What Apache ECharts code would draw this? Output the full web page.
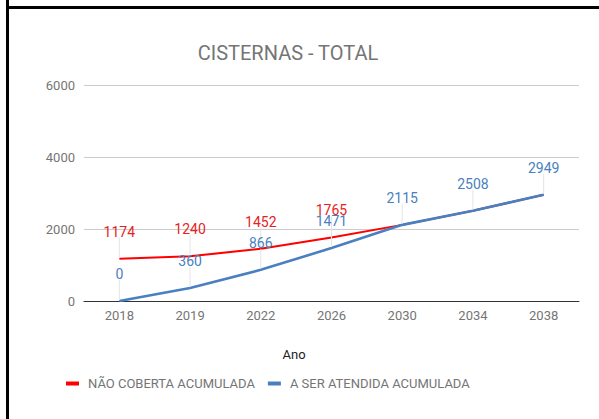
<!DOCTYPE html>
<html>
<head>
<meta charset="utf-8">
<script src="https://cdn.jsdelivr.net/npm/echarts@6/dist/echarts.min.js"></script>
<style>
  html, body { margin: 0; padding: 0; background: #fff; }
  #frame { position: absolute; left: 0; top: 0; width: 599px; height: 419px; }
  #chart { width: 599px; height: 419px; }
  .edge-top { position: absolute; left: 6px; top: 6px; width: 593px; height: 3px; background: #000; }
  .edge-left { position: absolute; left: 6px; top: 0; width: 3px; height: 419px; background: #000; }
</style>
</head>
<body>
<div id="frame">
  <div id="chart"></div>
  <div class="edge-top"></div>
  <div class="edge-left"></div>
</div>
<script>
// Years on the category axis
const years = ['2018', '2019', '2022', '2026', '2030', '2034', '2038'];
// Accumulated cisterns not covered
const naoCoberta = [1174, 1240, 1452, 1765, 2115, 2508, 2949];
// Which points of the red series carry a value label
const naoCobertaLabeled = [true, true, true, true, false, false, false];
// Accumulated cisterns to be served
const aSerAtendida = [0, 360, 866, 1471, 2115, 2508, 2949];
// Value axis ticks
const yTicks = [0, 2000, 4000, 6000];

const RED = '#ff0000';
const RED_TEXT = '#e8221f';
const BLUE = '#4a7fc0';
const GREY = '#757575';

// Value labels with a thin stem reaching down to the point
function stemLabels(values, shown, color) {
  return {
    type: 'custom',
    coordinateSystem: 'cartesian2d',
    silent: true,
    z: 5,
    data: values.map((v, i) => [i, v, shown ? (shown[i] ? 1 : 0) : 1]),
    renderItem(params, api) {
      if (!api.value(2)) return null;
      const p = api.coord([api.value(0), api.value(1)]);
      return {
        type: 'group',
        children: [
          {
            type: 'line',
            shape: { x1: p[0], y1: p[1] - 1, x2: p[0], y2: p[1] - 21 },
            style: { stroke: '#e4e4e4', lineWidth: 1 }
          },
          {
            type: 'text',
            style: {
              x: p[0], y: p[1] - 27,
              text: String(api.value(1)),
              fill: color,
              font: '14px Roboto',
              align: 'center',
              verticalAlign: 'middle'
            }
          }
        ]
      };
    }
  };
}

const chart = echarts.init(document.getElementById('chart'), null, { renderer: 'svg' });
chart.setOption({
  animation: false,
  backgroundColor: '#fff',
  title: [
    {
      text: 'CISTERNAS - TOTAL',
      left: 283, top: 38, textAlign: 'center',
      textStyle: { fontFamily: 'Roboto', fontSize: 20, fontWeight: 'normal', color: GREY }
    },
    {
      text: 'Ano',
      left: 289, top: 343, textAlign: 'center',
      textStyle: { fontFamily: 'Roboto', fontSize: 13, fontWeight: 'normal', color: '#222' }
    }
  ],
  legend: {
    left: 61, top: 372,
    itemWidth: 13, itemHeight: 4, itemGap: 13,
    icon: 'rect',
    textStyle: { fontFamily: 'Roboto', fontSize: 13, color: GREY, padding: [0, 0, 0, 4] },
    data: ['NÃO COBERTA ACUMULADA', 'A SER ATENDIDA ACUMULADA']
  },
  grid: { left: 84, right: 20, top: 85, bottom: 118 },
  xAxis: {
    type: 'category',
    data: years,
    boundaryGap: true,
    axisLine: { lineStyle: { color: '#333', width: 1 } },
    axisTick: { show: false },
    axisLabel: { fontFamily: 'Roboto', fontSize: 13, color: GREY, margin: 8 },
    splitLine: { show: false }
  },
  yAxis: {
    type: 'value',
    min: yTicks[0], max: yTicks[yTicks.length - 1], interval: yTicks[1] - yTicks[0],
    axisLine: { show: false },
    axisTick: { show: false },
    axisLabel: { fontFamily: 'Roboto', fontSize: 13, color: GREY, margin: 9, formatter: v => String(v) },
    splitLine: { lineStyle: { color: '#cccccc', width: 1 } }
  },
  series: [
    {
      name: 'NÃO COBERTA ACUMULADA',
      type: 'line',
      data: naoCoberta,
      color: RED,
      showSymbol: false,
      lineStyle: { width: 2, color: RED },
      z: 2
    },
    {
      name: 'A SER ATENDIDA ACUMULADA',
      type: 'line',
      data: aSerAtendida,
      color: BLUE,
      showSymbol: false,
      lineStyle: { width: 2.6, color: BLUE },
      z: 3
    },
    stemLabels(naoCoberta, naoCobertaLabeled, RED_TEXT),
    stemLabels(aSerAtendida, null, BLUE)
  ]
});
</script>
</body>
</html>
